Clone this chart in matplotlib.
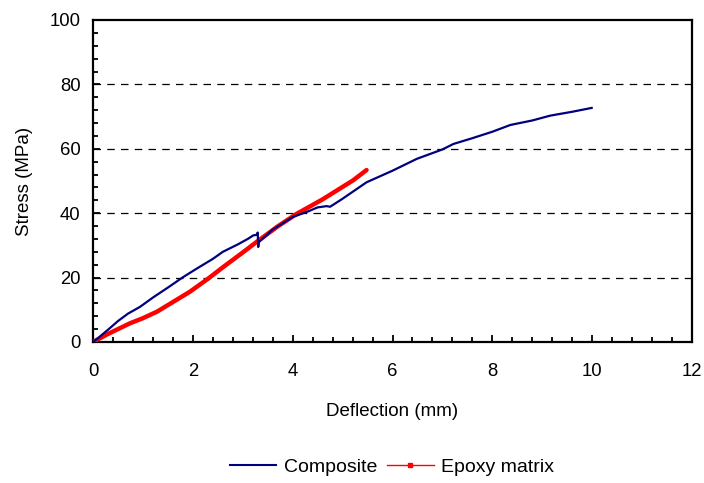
import matplotlib
matplotlib.use("Agg")
import matplotlib.pyplot as plt
from matplotlib.lines import Line2D
from matplotlib.ticker import MultipleLocator

plt.rcParams['font.family'] = ['Liberation Sans', 'DejaVu Sans']

comp_x = [0, 0.1, 0.3, 0.5, 0.7, 0.94, 1.2, 1.5, 1.81, 2.1, 2.4, 2.6, 2.9, 3.1, 3.21, 3.28, 3.30, 3.31, 3.32,
          3.6, 4.0, 4.3, 4.5, 4.68, 4.75, 5.0, 5.48, 6.0, 6.49, 7.0, 7.22, 7.6, 8.0, 8.36, 8.8, 9.16, 9.6, 9.99]
comp_y = [0, 1.2, 3.8, 6.5, 8.8, 10.9, 13.8, 16.9, 20.2, 23.0, 25.8, 28.0, 30.3, 32.0, 33.1, 33.3, 34.0, 29.5, 31.0,
          34.9, 38.8, 40.5, 41.8, 42.2, 42.0, 44.5, 49.6, 53.2, 56.9, 59.8, 61.5, 63.3, 65.3, 67.4, 68.8, 70.3, 71.5, 72.7]

epoxy_x = [0, 0.3, 0.74, 1.0, 1.28, 1.6, 1.94, 2.3, 2.61, 3.0, 3.28, 3.7, 4.08, 4.6, 5.21, 5.48]
epoxy_y = [0, 2.5, 5.8, 7.4, 9.4, 12.4, 15.6, 19.6, 23.3, 27.8, 31.1, 35.9, 39.8, 44.3, 50.2, 53.4]

x_ticks = [0, 2, 4, 6, 8, 10, 12]
y_ticks = [0, 20, 40, 60, 80, 100]

fig = plt.figure(figsize=(7.04, 4.83), dpi=100)
ax = fig.add_axes([93/704, 1-342/483, 599/704, 322/483])

ax.plot(epoxy_x, epoxy_y, color='#FF0000', lw=3.2, solid_capstyle='round', zorder=3)
ax.plot(comp_x, comp_y, color='#000080', lw=1.6, zorder=4)

ax.set_xlim(0, 12)
ax.set_ylim(0, 100)
ax.set_xticks(x_ticks)
ax.set_yticks(y_ticks)
ax.xaxis.set_minor_locator(MultipleLocator(0.4))
ax.yaxis.set_minor_locator(MultipleLocator(4))
ax.tick_params(which='both', direction='in', labelsize=13.3, width=1.3)
ax.tick_params(which='major', length=5)
ax.tick_params(which='minor', length=3.3)
ax.tick_params(axis='x', pad=15)
ax.tick_params(axis='y', pad=9)
for s in ax.spines.values():
    s.set_linewidth(1.6)

for yv in [20, 40, 60, 80]:
    ax.axhline(yv, color='black', lw=0.9, ls=(0, (6, 5)), zorder=1)

ax.set_xlabel('Deflection (mm)', fontsize=13.5)
ax.set_ylabel('Stress (MPa)', fontsize=13.5)
ax.xaxis.set_label_coords(0.5, -0.19)
ax.yaxis.set_label_coords(-0.1, 0.5)

handles = [Line2D([], [], color='#000080', lw=1.5),
           Line2D([], [], color='#FF0000', lw=1.0, marker='s', markersize=3)]
fig.legend(handles, ['Composite', 'Epoxy matrix'], loc='center', bbox_to_anchor=(392/704, 1-467/483),
           ncol=2, frameon=False, fontsize=14, handlelength=2.4, columnspacing=0.5, handletextpad=0.4)

fig.savefig('out.png', dpi=100)
